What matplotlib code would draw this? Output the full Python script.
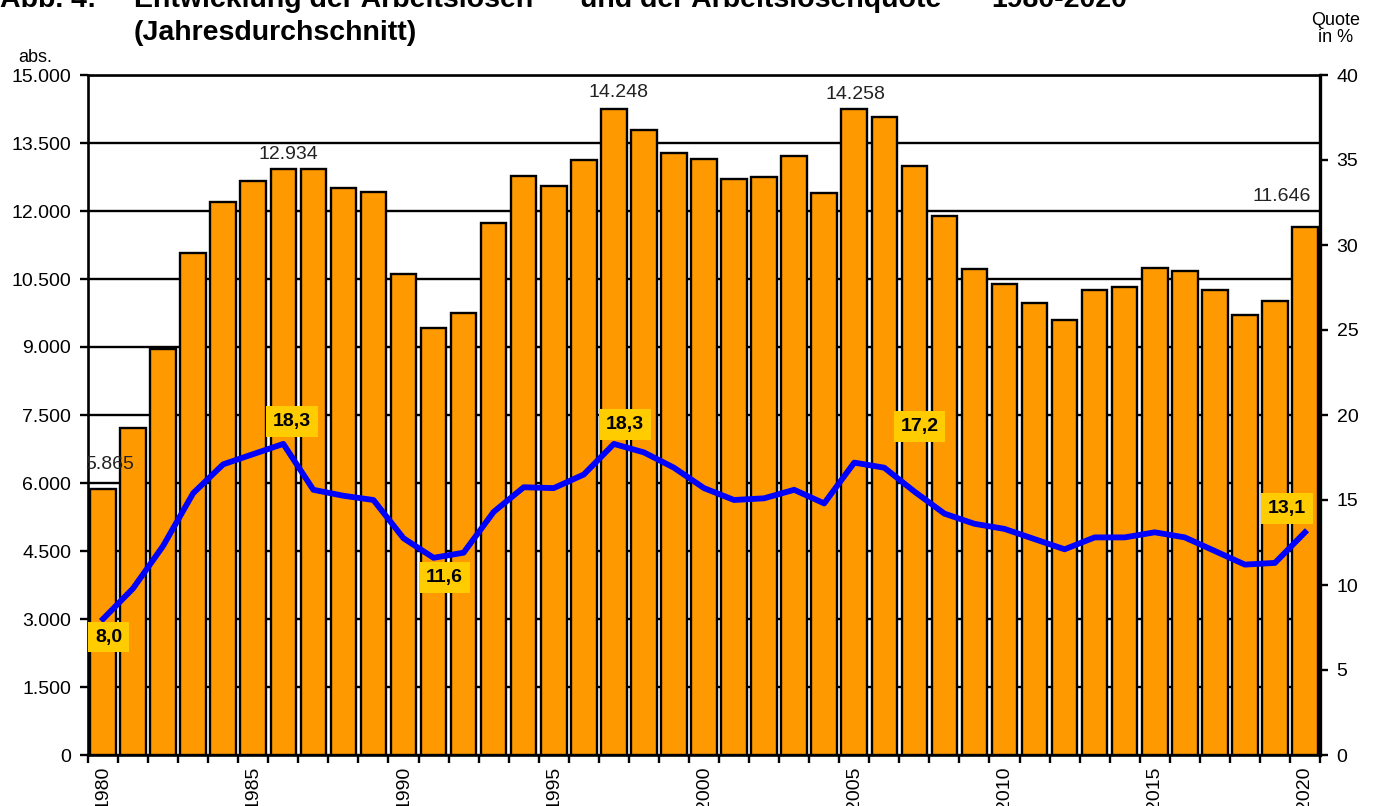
import matplotlib
matplotlib.use("Agg")
import matplotlib.pyplot as plt
from matplotlib.ticker import FuncFormatter, MultipleLocator

plt.rcParams["font.family"] = ["Liberation Sans", "DejaVu Sans"]

# Jahre 1980-2020
years = list(range(1980, 2021))

# Arbeitslose (abs.), Jahresdurchschnitt
unemployed = [
    5865, 7210, 8960, 11080, 12200, 12660, 12934, 12920, 12510, 12420,
    10620, 9430, 9760, 11730, 12780, 12560, 13130, 14248, 13790, 13280,
    13150, 12710, 12750, 13210, 12400, 14258, 14070, 13000, 11890, 10710,
    10380, 9960, 9590, 10260, 10330, 10740, 10670, 10260, 9710, 10020,
    11646,
]

# Arbeitslosenquote in %
rate = [
    8.0, 9.8, 12.3, 15.4, 17.1, 17.7, 18.3, 15.6, 15.25, 15.0,
    12.75, 11.6, 11.9, 14.3, 15.75, 15.7, 16.5, 18.3, 17.8, 16.9,
    15.7, 15.0, 15.1, 15.6, 14.8, 17.2, 16.9, 15.5, 14.2, 13.6,
    13.3, 12.7, 12.1, 12.8, 12.8, 13.1, 12.8, 12.0, 11.2, 11.3,
    13.1,
]

# beschriftete Balken: Jahr -> Versatz (Punkte)
bar_labels = {1980: (5, 18), 1986: (4, 10), 1997: (3, 12), 2005: (1, 10), 2020: (-17, 22)}
# beschriftete Quote: Jahr -> Versatz (Punkte)
rate_labels = {1980: (4, -13), 1986: (6, 16), 1991: (8, -14), 1997: (8, 14), 2005: (47, 26), 2020: (-13, 17)}


def de_thousands(v, pos):
    return f"{int(v):,}".replace(",", ".")


fig = plt.figure(figsize=(13.76, 8.06), dpi=100)
ax = fig.add_axes([88 / 1376, 1 - 755 / 806, (1320 - 88) / 1376, (755 - 75) / 806])

# Balken
ax.bar(years, unemployed, width=0.85, color="#FF9900", edgecolor="black", linewidth=1.7, zorder=2)
ax.set_xlim(1979.5, 2020.5)
ax.set_ylim(0, 15000)
ax.yaxis.set_major_locator(MultipleLocator(1500))
ax.yaxis.set_major_formatter(FuncFormatter(de_thousands))
ax.set_axisbelow(True)
ax.yaxis.grid(True, color="black", linewidth=1.7)

# x-Achse: Striche zwischen den Balken, Beschriftung alle 5 Jahre
ax.set_xticks([y for y in years if y % 5 == 0])
ax.set_xticklabels([str(y) for y in years if y % 5 == 0], rotation=90, fontsize=14, va="top")
ax.set_xticks([y - 0.5 for y in years] + [2020.5], minor=True)
ax.tick_params(axis="x", which="major", length=0, pad=8)
ax.tick_params(axis="x", which="minor", length=6, width=1.7, direction="out")
ax.tick_params(axis="y", length=6, width=1.7, labelsize=14, pad=6)

for side in ["left", "bottom", "top"]:
    ax.spines[side].set_linewidth(1.9)

for year, (dx, dy) in bar_labels.items():
    v = unemployed[years.index(year)]
    ax.annotate(de_thousands(v, None), (year, v), xytext=(dx, dy), textcoords="offset points",
                ha="center", va="center", fontsize=14, color="#222222", zorder=5)

# Quote (rechte Achse)
ax2 = ax.twinx()
ax2.plot(years, rate, color="#0000FF", linewidth=4.2, solid_joinstyle="round", zorder=3)
ax2.set_ylim(0, 40)
ax2.yaxis.set_major_locator(MultipleLocator(5))
ax2.tick_params(axis="y", length=6, width=1.7, labelsize=14, pad=6)
ax2.spines["right"].set_linewidth(2.4)
for side in ["left", "bottom", "top"]:
    ax2.spines[side].set_visible(False)

for year, (dx, dy) in rate_labels.items():
    v = rate[years.index(year)]
    ax2.annotate(f"{v:.1f}".replace(".", ","), (year, v), xytext=(dx, dy), textcoords="offset points",
                 ha="center", va="center", fontsize=14, fontweight="bold", color="black",
                 bbox=dict(boxstyle="square,pad=0.35", fc="#FFCC00", ec="none"), zorder=6)

# Achsentitel
fig.text(35 / 1376, 1 - 57 / 806, "abs.", ha="center", va="center", fontsize=13)
fig.text(1336 / 1376, 1 - 29 / 806, "Quote\nin %", ha="center", va="center", fontsize=13,
         linespacing=1.05)

# Überschrift (oben angeschnitten)
title_size = 20.5
fig.text(0, 1 - 7 / 806, "Abb. 4:", fontsize=title_size, fontweight="bold", va="baseline")
fig.text(134 / 1376, 1 - 7 / 806, "Entwicklung der Arbeitslosen", fontsize=title_size,
         fontweight="bold", va="baseline")
fig.text(544 / 1376, 1 + 4 / 806, "1)", fontsize=11, fontweight="bold", va="baseline")
fig.text(580 / 1376, 1 - 7 / 806, "und der Arbeitslosenquote", fontsize=title_size,
         fontweight="bold", va="baseline")
fig.text(955 / 1376, 1 + 4 / 806, "2)", fontsize=11, fontweight="bold", va="baseline")
fig.text(991 / 1376, 1 - 7 / 806, "1980-2020", fontsize=title_size, fontweight="bold", va="baseline")
fig.text(134 / 1376, 1 - 40 / 806, "(Jahresdurchschnitt)", fontsize=title_size,
         fontweight="bold", va="baseline")

fig.savefig("out.png", dpi=100)
